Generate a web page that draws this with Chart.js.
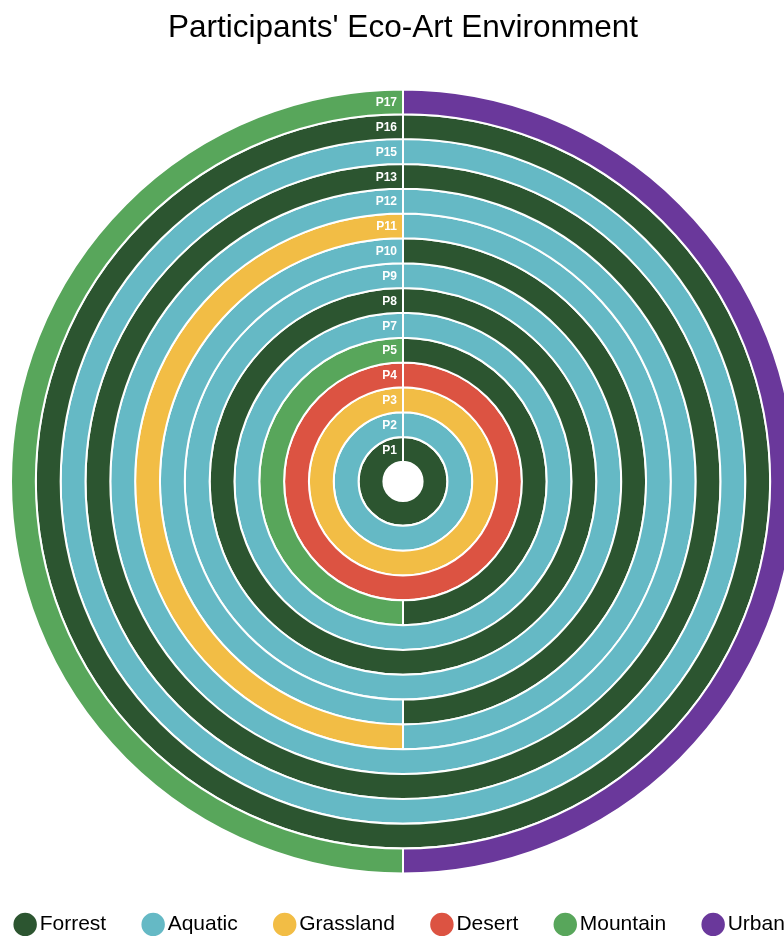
<!DOCTYPE html>
<html>
<head>
<meta charset="utf-8">
<script src="https://cdn.jsdelivr.net/npm/chart.js@4.4.1/dist/chart.umd.min.js"></script>
<style>
  html, body { margin: 0; padding: 0; background: #fff; overflow: hidden; }
  .wrap { position: relative; width: 856px; height: 945px; margin-left: -25px; }
</style>
</head>
<body>
<div class="wrap"><canvas id="ecoChart"></canvas></div>
<script>
// environments (legend order)
const environments = ['Forrest', 'Aquatic', 'Grassland', 'Desert', 'Mountain', 'Urban'];
const envColors = ['#2c5530', '#65b9c5', '#f2bd45', '#dc5342', '#58a65b', '#6a389b'];

// participants, inner ring -> outer ring
const participants = ['P1', 'P2', 'P3', 'P4', 'P5', 'P7', 'P8', 'P9', 'P10', 'P11', 'P12', 'P13', 'P15', 'P16', 'P17'];

// share of each environment per participant (%)
const forrest   = [100, 0, 0, 0, 50, 0, 100, 0, 50, 0, 0, 100, 0, 100, 0];
const aquatic   = [0, 100, 0, 0, 0, 100, 0, 100, 50, 50, 100, 0, 100, 0, 0];
const grassland = [0, 0, 100, 0, 0, 0, 0, 0, 0, 50, 0, 0, 0, 0, 0];
const desert    = [0, 0, 0, 100, 0, 0, 0, 0, 0, 0, 0, 0, 0, 0, 0];
const mountain  = [0, 0, 0, 0, 50, 0, 0, 0, 0, 0, 0, 0, 0, 0, 50];
const urban     = [0, 0, 0, 0, 0, 0, 0, 0, 0, 0, 0, 0, 0, 0, 50];

// rings whose second environment sits on the right side
const flipped = ['P17'];

const series = [forrest, aquatic, grassland, desert, mountain, urban];

// chart.js draws dataset 0 as the outer ring, so go outer -> inner
const datasets = participants.map((p, i) => ({
    label: p,
    data: series.map(s => s[i]),
    backgroundColor: envColors,
    borderColor: '#ffffff',
    borderWidth: 2,
    hoverOffset: 0,
    rotation: flipped.includes(p) ? 180 : 0
})).reverse();

// participant name at the top of each ring
const ringLabels = {
    id: 'ringLabels',
    afterDatasetsDraw(chart) {
        const ctx = chart.ctx;
        ctx.save();
        ctx.font = 'bold 12px "Liberation Sans", Arial, sans-serif';
        ctx.fillStyle = '#ffffff';
        ctx.textAlign = 'right';
        ctx.textBaseline = 'middle';
        chart.data.datasets.forEach((ds, i) => {
            const arc = chart.getDatasetMeta(i).data[0];
            if (!arc) return;
            const r = (arc.innerRadius + arc.outerRadius) / 2;
            ctx.fillText(ds.label, arc.x - 6, arc.y - r + 1);
        });
        ctx.restore();
    }
};

new Chart(document.getElementById('ecoChart'), {
    type: 'doughnut',
    data: { labels: environments, datasets: datasets },
    options: {
        responsive: true,
        maintainAspectRatio: false,
        animation: false,
        cutout: '5%',
        radius: 392,
        plugins: {
            title: {
                display: true,
                text: "Participants' Eco-Art Environment",
                color: '#000',
                font: { family: '"Liberation Sans", Arial, sans-serif', size: 31.5, weight: 'normal' },
                padding: { top: 9, bottom: 45 }
            },
            legend: {
                position: 'bottom',
                labels: {
                    usePointStyle: true,
                    pointStyle: 'circle',
                    boxWidth: 8,
                    boxHeight: 18,
                    padding: 43,
                    color: '#000',
                    font: { family: '"Liberation Sans", Arial, sans-serif', size: 21 }
                }
            },
            tooltip: { enabled: false }
        }
    },
    plugins: [ringLabels]
});
</script>
</body>
</html>
